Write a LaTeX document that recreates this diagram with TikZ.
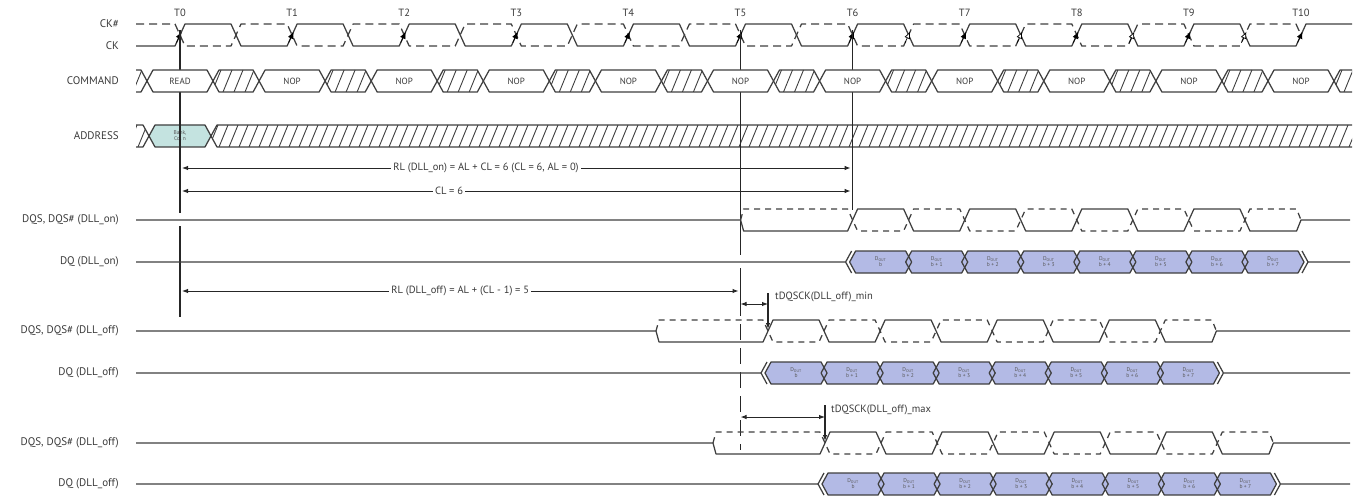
\documentclass[tikz,border=0pt]{standalone}
\usepackage{fontspec}
\setmainfont{PT Sans}
\usetikzlibrary{arrows.meta,positioning}

\definecolor{sigcol}{HTML}{3F3F3F}
\definecolor{txtcol}{HTML}{3A3A3A}
\definecolor{dqcol}{HTML}{B3BAE5}
\definecolor{addrcol}{HTML}{C4E3E0}

% bus cell: left x, right x, middle y
\newcommand{\buscell}[3]{({#1},{#3}) -- ({(#1)+6},{#3-11}) -- ({(#2)-6},{#3-11}) -- ({#2},{#3}) -- ({(#2)-6},{#3+11}) -- ({(#1)+6},{#3+11}) -- cycle}

% don't care cell: left x, right x, middle y, hatch spacing
\newcommand{\hatchcell}[4]{%
  \begin{scope}
    \clip \buscell{#1}{#2}{#3};
    \pgfmathtruncatemacro\nhatch{((#2)-(#1)+24)/#4}
    \foreach \k in {0,...,\nhatch}
      \draw[hatch] ({(#1)-12+\k*#4},{#3+11}) -- ++(9,-22);
  \end{scope}
  \draw[sig] \buscell{#1}{#2}{#3};}

% DQS / DQS#: middle y, first edge x
\newcommand{\strobe}[2]{%
  \draw[sig] (136,#1) -- ({(#2)-112},#1) -- ({(#2)-109},{#1+11})
    foreach \k in {0,2,4,6} {-- ({(#2)+\k*56.05-5},{#1+11}) -- ({(#2)+\k*56.05+5},{#1-11})
      -- ({(#2)+\k*56.05+51},{#1-11}) -- ({(#2)+\k*56.05+61},{#1+11})}
    -- ({(#2)+444},{#1+11}) -- ({(#2)+448.4},#1) -- (1350,#1);
  \draw[dqsn] ({(#2)-112},#1) -- ({(#2)-109},{#1-11})
    foreach \k in {0,2,4,6} {-- ({(#2)+\k*56.05-5},{#1-11}) -- ({(#2)+\k*56.05+5},{#1+11})
      -- ({(#2)+\k*56.05+51},{#1+11}) -- ({(#2)+\k*56.05+61},{#1-11})}
    -- ({(#2)+444},{#1-11}) -- ({(#2)+448.4},#1);}

% DQ burst of 8: middle y, first edge x, name prefix
\newcommand{\burst}[3]{%
  \draw[sig] (136,#1) -- ({(#2)-7},#1) -- ({(#2)-1},{#1-11}) ({(#2)-7},#1) -- ({(#2)-1},{#1+11});
  \foreach \k in {0,...,7}
    \fill[dqcol] \buscell{(#2)+\k*56.05-3}{(#2)+\k*56.05+59.05}{#1};
  \foreach \k in {0,...,7} {
    \draw[sig] \buscell{(#2)+\k*56.05-3}{(#2)+\k*56.05+59.05}{#1};
    \node[celltext] (#3\k) at ({(#2)+\k*56.05+28},#1) {D\textsubscript{OUT}\\\ifnum\k=0 b\else b + \k\fi};}
  \draw[sig] ({(#2)+449.4},{#1-11}) -- ({(#2)+455.4},#1) -- ({(#2)+449.4},{#1+11}) ({(#2)+455.4},#1) -- (1350,#1);}

\begin{document}
\begin{tikzpicture}[x=1pt,y=-1pt,
    declare function={tx(\n)=180+\n*112.1;},
    >={Latex[length=6pt,width=4.5pt]},
    sig/.style={draw=sigcol,line width=1.25pt,line join=round},
    ckn/.style={sig,dash pattern=on 8pt off 5pt},
    dqsn/.style={sig,dash pattern=on 6pt off 5pt},
    hatch/.style={draw=sigcol,line width=0.9pt},
    tline/.style={draw=black!85,line width=1.1pt},
    dim/.style={<->,draw=black!85,line width=1pt,shorten <=2pt,shorten >=2pt},
    edgetip/.style={draw=black,line width=0.7pt,-{Latex[length=7pt,width=6pt]}},
    opentip/.style={draw=black,line width=0.7pt,-{Latex[open,fill=white,length=7pt,width=6pt]}},
    siglabel/.style={anchor=east,inner sep=0,text=txtcol,font=\fontsize{11}{12}\selectfont},
    tlabel/.style={inner sep=0,text=txtcol,font=\fontsize{10.5}{12}\selectfont},
    dimlabel/.style={inner sep=2pt,fill=white,text=txtcol,font=\fontsize{10.5}{12}\selectfont},
    cmdtext/.style={inner sep=0,text=txtcol,font=\fontsize{9}{10}\selectfont},
    celltext/.style={inner sep=0,align=center,text=txtcol!85,font=\fontsize{5.5}{6}\selectfont}]
  \useasboundingbox (0,0) rectangle (1357,500);

  % signal names
  \node[siglabel] (lckn) at (119,24) {CK\#};
  \node[siglabel] (lck) at (119,46) {CK};
  \node[siglabel] (lcmd) at (119,81) {COMMAND};
  \node[siglabel] (laddr) at (119,136) {ADDRESS};
  \node[siglabel] (ldqson) at (119,220) {DQS, DQS\# (DLL\_on)};
  \node[siglabel] (ldqon) at (119,262) {DQ (DLL\_on)};
  \node[siglabel] (ldqsmin) at (119,331) {DQS, DQS\# (DLL\_off)};
  \node[siglabel] (ldqmin) at (119,373) {DQ (DLL\_off)};
  \node[siglabel] (ldqsmax) at (119,443) {DQS, DQS\# (DLL\_off)};
  \node[siglabel] (ldqmax) at (119,484) {DQ (DLL\_off)};

  % clock
  \foreach \n in {0,...,10} \node[tlabel] (t\n) at ({tx(\n)},13) {T\n};
  \draw[sig] (136,46) foreach \n in {0,...,9} {-- ({tx(\n)-5},46) -- ({tx(\n)+5},24) -- ({tx(\n)+51},24) -- ({tx(\n)+61},46)}
    -- ({tx(10)-5},46) -- ({tx(10)+5},24) -- (1352,24);
  \draw[ckn] (136,24) foreach \n in {0,...,9} {-- ({tx(\n)-5},24) -- ({tx(\n)+5},46) -- ({tx(\n)+51},46) -- ({tx(\n)+61},24)}
    -- ({tx(10)-5},24) -- ({tx(10)},35);
  \foreach \n in {0,...,10} \draw[edgetip] ({tx(\n)-3.5},42.7) -- ({tx(\n)+1.5},31.7);
  \foreach \n in {6,...,9} \draw[opentip] ({tx(\n)+52.5},42.7) -- ({tx(\n)+57.5},31.7);

  % address
  \begin{scope}
    \clip (136,0) rectangle (1352,500);
    \hatchcell{100}{tx(0)-31}{136}{10}
    \fill[addrcol] \buscell{tx(0)-31}{tx(0)+31}{136};
    \draw[sig] \buscell{tx(0)-31}{tx(0)+31}{136};
    \hatchcell{tx(0)+31}{1420}{136}{10}
  \end{scope}
  \node[celltext] (bank) at ({tx(0)},136) {Bank,\\Col n};

  % reference lines
  \draw[tline] ({tx(0)},30) -- ({tx(0)},213) ({tx(0)},226) -- ({tx(0)},317);
  \draw[tline] ({tx(5)},30) -- ({tx(5)},255) ({tx(5)},268) -- ({tx(5)},300);
  \draw[tline,dash pattern=on 16pt off 8pt] ({tx(5)},300) -- ({tx(5)},450);
  \draw[tline] ({tx(6)},30) -- ({tx(6)},210);

  % command
  \begin{scope}
    \clip (136,0) rectangle (1352,500);
    \foreach \n in {0,...,10} {
      \hatchcell{tx(\n)-79.1}{tx(\n)-33}{81}{11}
      \filldraw[sig,fill=white] \buscell{tx(\n)-33}{tx(\n)+33}{81};
      \node[cmdtext] (cmd\n) at ({tx(\n)},81) {\ifnum\n=0 READ\else NOP\fi};}
    \hatchcell{tx(10)+33}{tx(10)+79.1}{81}{11}
  \end{scope}

  % read latency
  \coordinate (rlona) at ({tx(0)},168);
  \coordinate (rlonb) at ({tx(6)},168);
  \draw[dim] (rlona) -- node[dimlabel,pos=.455] (rlon) {RL (DLL\_on) = AL + CL = 6 (CL = 6, AL = 0)} (rlonb);
  \coordinate (cla) at ({tx(0)},191);
  \coordinate (clb) at ({tx(6)},191);
  \draw[dim] (cla) -- node[dimlabel,pos=.4] (cl) {CL = 6} (clb);
  \coordinate (rloffa) at ({tx(0)},291);
  \coordinate (rloffb) at ({tx(5)},291);
  \draw[dim] (rloffa) -- node[dimlabel,pos=.5] (rloff) {RL (DLL\_off) = AL + (CL - 1) = 5} (rloffb);

  % DLL on
  \strobe{220}{tx(6)}
  \burst{262}{tx(6)}{don}

  % DLL off, tDQSCK min
  \coordinate (mina) at ({tx(5)},304);
  \coordinate (minb) at (768,304);
  \draw[dim,shorten <=0pt,shorten >=0pt] (mina) -- (minb);
  \coordinate (mintop) at (768,293);
  \coordinate (minedge) at (768,329);
  \draw[tline,->] (mintop) -- (minedge);
  \node[dimlabel,anchor=west,fill=none] (tmin) at (773,297) {tDQSCK(DLL\_off)\_min};
  \strobe{331}{768}
  \burst{373}{768}{dmin}

  % DLL off, tDQSCK max
  \coordinate (maxa) at ({tx(5)},417);
  \coordinate (maxb) at (825,417);
  \draw[dim,shorten <=0pt,shorten >=0pt] (maxa) -- (maxb);
  \coordinate (maxtop) at (825,405);
  \coordinate (maxedge) at (825,441);
  \draw[tline,->] (maxtop) -- (maxedge);
  \node[dimlabel,anchor=west,fill=none] (tmax) at (829,410) {tDQSCK(DLL\_off)\_max};
  \strobe{443}{825}
  \burst{484}{825}{dmax}
\end{tikzpicture}
\end{document}
